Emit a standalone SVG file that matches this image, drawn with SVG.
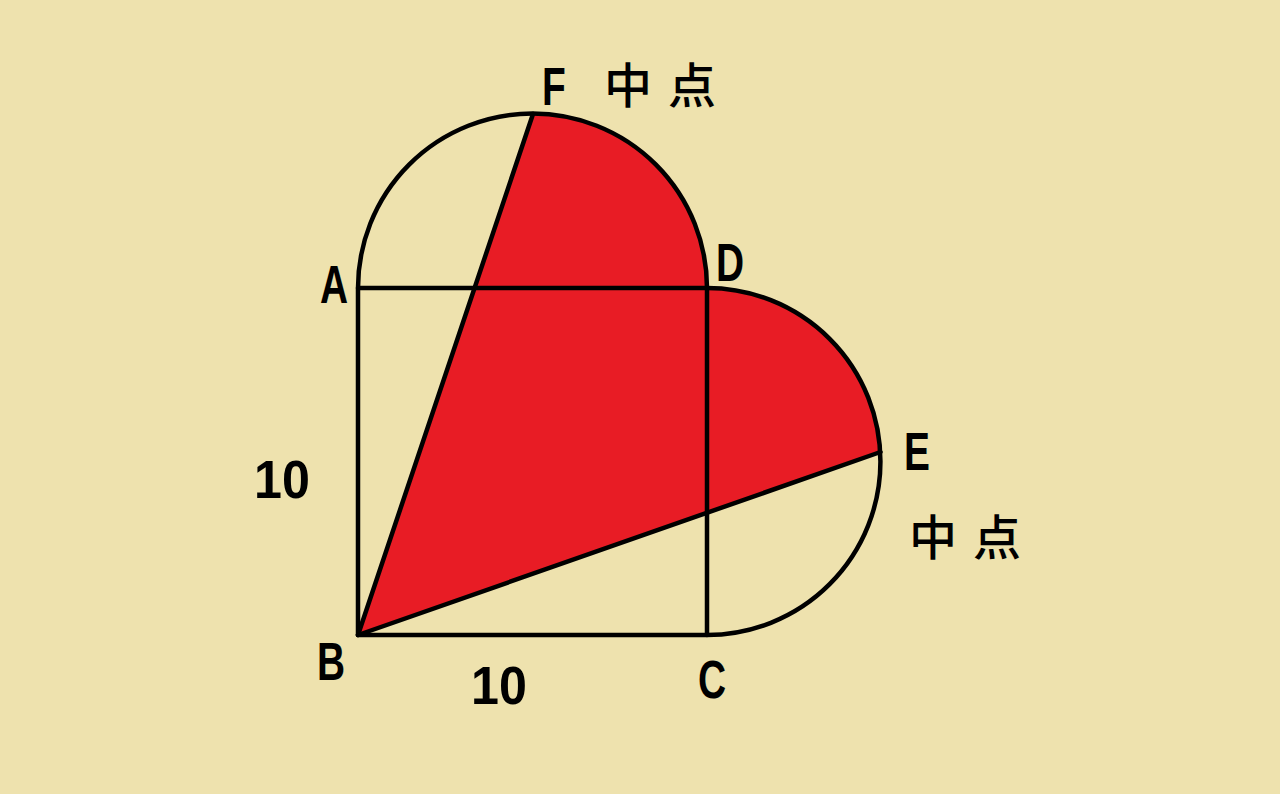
<svg xmlns="http://www.w3.org/2000/svg" width="1280" height="794" viewBox="0 0 1280 794">
<style>
.ln{fill:none;stroke:#000;stroke-width:4.5;stroke-linejoin:round;stroke-linecap:round}
.lt{font-family:"Liberation Sans",Arial,sans-serif;font-weight:bold;font-size:54px;fill:#000}
.cj{font-family:"Noto Sans CJK SC",sans-serif;font-weight:500;font-size:48px;fill:#000}
</style>
<rect width="1280" height="794" fill="#EEE2AE"/>
<g id="shaded">
<path d="M358 635 L533 114 A174.5 174.5 0 0 1 707 288 A173.5 173.5 0 0 1 880.5 452 Z" fill="#E81C25"/>
</g>
<g id="connectors">
<path class="ln" d="M358 288 A174.5 174.5 0 0 1 707 288"/>
<path class="ln" d="M707 288 A173.5 173.5 0 0 1 707 635"/>
<path class="ln" d="M358 288 L707 288 L707 635 L358 635 Z"/>
<path class="ln" d="M358 635 L533 114"/>
<path class="ln" d="M358 635 L880.5 452"/>
</g>
<g id="labels">
<g id="F"><text class="lt" transform="translate(542 105) scale(0.72 1)">F</text></g>
<g id="A"><text class="lt" transform="translate(320 303) scale(0.72 1)">A</text></g>
<g id="D"><text class="lt" transform="translate(716 281) scale(0.72 1)">D</text></g>
<g id="E"><text class="lt" transform="translate(904 470) scale(0.72 1)">E</text></g>
<g id="B"><text class="lt" transform="translate(317 680) scale(0.72 1)">B</text></g>
<g id="C"><text class="lt" transform="translate(698 698) scale(0.72 1)">C</text></g>
<text class="lt" transform="translate(254 498) scale(0.93 1)">10</text>
<text class="lt" transform="translate(471 704) scale(0.93 1)">10</text>
<text class="cj" x="604" y="103" letter-spacing="16">中点</text>
<text class="cj" x="909" y="555" letter-spacing="16">中点</text>
</g>
</svg>
